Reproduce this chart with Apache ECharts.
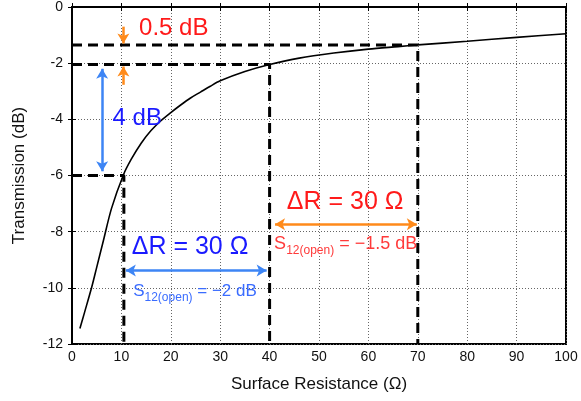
<!DOCTYPE html>
<html><head><meta charset="utf-8">
<script src="https://cdn.jsdelivr.net/npm/echarts@6/dist/echarts.min.js"></script>
<style>html,body{margin:0;padding:0;background:#fff}#c{width:581px;height:401px}</style>
</head><body><div id="c"></div>
<script>
const curveX = [1.6, 2.5, 4, 5, 6.3, 8, 10.4, 12, 14, 16, 18, 20, 22, 24, 26, 28, 30, 35, 40, 46, 53, 60, 66, 70, 80, 90, 100];
const curveY = [-11.45, -10.9, -9.97, -9.27, -8.36, -7.17, -5.98, -5.42, -4.85, -4.4, -4.05, -3.76, -3.49, -3.24, -3.03, -2.82, -2.63, -2.3, -2.05, -1.82, -1.64, -1.5, -1.41, -1.35, -1.22, -1.08, -0.95];
// reference dashed guides: [x at corner, y level]
const guideX = [10.5, 40, 70];
const guideY = [-6, -2.05, -1.35];
const xMin = 0, xMax = 100, xStep = 10;
const yMin = -12, yMax = 0, yStep = 2;
// annotation arrows [x1,y1,x2,y2]
const blueVArrow = [6.1, -2.2, 6.1, -5.85];
const blueHArrow = [10.9, -9.38, 39.4, -9.38];
const orangeHArrow = [41.1, -7.74, 69.8, -7.74];
const orangeDown = [10.4, -0.7, 10.4, -1.3];
const orangeUp = [10.4, -2.77, 10.4, -2.12];
// annotation texts [x, y]
const txt05 = [20.6, -0.77];
const txt4 = [13.2, -3.95];
const txtDRblue = [23.9, -8.54];
const txtSblue = [24.9, -10.12];
const txtDRred = [55.3, -6.93];
const txtSred = [55.4, -8.45];

const FONT = 'Liberation Sans';
const chart = echarts.init(document.getElementById('c'));

function guideSeries(i) {
  return {
    type: 'line', data: [[xMin, guideY[i]], [guideX[i], guideY[i]], [guideX[i], yMin]],
    symbol: 'none', silent: true, z: 3,
    lineStyle: { color: '#000', width: 3, type: [10, 6] }
  };
}
function arrow(a, color, both) {
  return [{ coord: [a[0], a[1]], symbol: both ? 'arrow' : 'none' }, { coord: [a[2], a[3]], symbol: 'arrow', lineStyle: { color: color, width: 2.5, type: 'solid' } }];
}
function textPt(p, text, color, size, rich) {
  return {
    value: p,
    itemStyle: { opacity: 1 },
    label: {
      show: true, position: 'inside', formatter: text, color: color, opacity: 1,
      fontSize: size, fontFamily: FONT, rich: rich
    }
  };
}
const subRich = (color, size) => ({
  m: { fontSize: size, fontFamily: FONT, color: color, lineHeight: 24, verticalAlign: 'middle' },
  s: { fontSize: 12, fontFamily: FONT, color: color, lineHeight: 24, verticalAlign: 'bottom', padding: [9, 0, 0, 0] }
});

chart.setOption({
  animation: false,
  grid: { left: 72, right: 15, top: 7, bottom: 57, show: true, borderColor: '#000', borderWidth: 2 },
  xAxis: [{
    type: 'value', min: xMin, max: xMax, interval: xStep,
    name: 'Surface Resistance (Ω)', nameLocation: 'middle', nameGap: 32,
    nameTextStyle: { fontSize: 17, fontFamily: FONT, color: '#111' },
    axisLine: { lineStyle: { color: '#000', width: 2 } },
    axisTick: { inside: true, length: 4, lineStyle: { color: '#000' } },
    axisLabel: { fontSize: 14, fontFamily: FONT, color: '#111', margin: 6 },
    splitLine: { lineStyle: { color: '#666', type: [1, 2], width: 1 } }
  }, {
    type: 'value', min: xMin, max: xMax, interval: xStep, position: 'top',
    axisLine: { lineStyle: { color: '#000', width: 2 } },
    axisTick: { inside: true, length: 4, lineStyle: { color: '#000' } },
    axisLabel: { show: false }, splitLine: { show: false }
  }],
  yAxis: [{
    type: 'value', min: yMin, max: yMax, interval: yStep,
    name: 'Transmission (dB)', nameLocation: 'middle', nameGap: 44,
    nameTextStyle: { fontSize: 17, fontFamily: FONT, color: '#111' },
    axisLine: { show: true, lineStyle: { color: '#000', width: 2 } },
    axisTick: { show: true, inside: true, length: 4, lineStyle: { color: '#000' } },
    axisLabel: { fontSize: 14, fontFamily: FONT, color: '#111', margin: 9, formatter: v => String(v) },
    splitLine: { lineStyle: { color: '#666', type: [1, 2], width: 1 } }
  }, {
    type: 'value', min: yMin, max: yMax, interval: yStep, position: 'right',
    axisLine: { show: true, lineStyle: { color: '#000', width: 2 } },
    axisTick: { show: true, inside: true, length: 4, lineStyle: { color: '#000' } },
    axisLabel: { show: false }, splitLine: { show: false }
  }],
  series: [
    {
      type: 'line', data: curveX.map((x, i) => [x, curveY[i]]), smooth: 0.3,
      symbol: 'none', z: 4, lineStyle: { color: '#000', width: 1.6 }
    },
    guideSeries(0), guideSeries(1), guideSeries(2),
    {
      type: 'line', data: [], z: 5,
      markLine: {
        silent: true, symbolSize: [9, 10], label: { show: false },
        lineStyle: { type: 'solid', width: 2.5 },
        data: [
          arrow(blueVArrow, '#3d85f5', true),
          arrow(blueHArrow, '#3d85f5', true),
          arrow(orangeHArrow, '#ff8a1a', true),
          arrow(orangeDown, '#ff8a1a', false),
          arrow(orangeUp, '#ff8a1a', false)
        ]
      }
    },
    {
      type: 'scatter', symbolSize: 0, z: 6, silent: true,
      itemStyle: { opacity: 1 },
      data: [
        textPt(txt05, '0.5 dB', '#ff1a1a', 24),
        textPt(txt4, '4 dB', '#1a1aff', 24),
        textPt(txtDRblue, 'ΔR = 30 Ω', '#1a1aff', 25),
        textPt(txtDRred, 'ΔR = 30 Ω', '#ff1a1a', 25),
        textPt(txtSblue, '{m|S}{s|12(open)}{m| = −2 dB}', '#3a6cff', 17, subRich('#3a6cff', 17)),
        textPt(txtSred, '{m|S}{s|12(open)}{m| = −1.5 dB}', '#ff3a3a', 18, subRich('#ff3a3a', 18))
      ]
    }
  ]
});
</script></body></html>
